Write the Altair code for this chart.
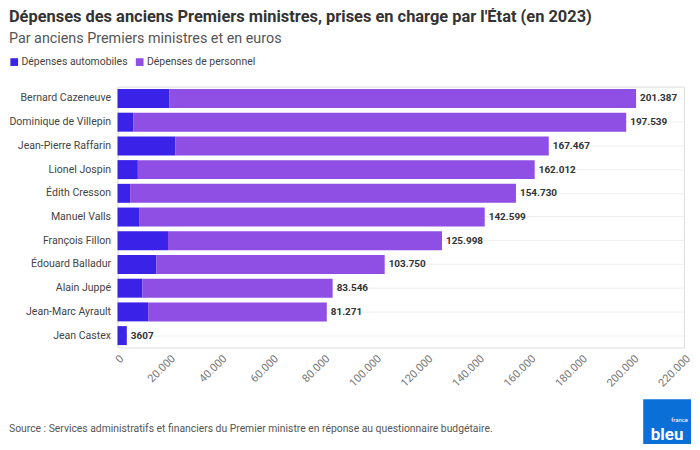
import altair as alt
import pandas as pd

ministres = ["Bernard Cazeneuve", "Dominique de Villepin", "Jean-Pierre Raffarin",
             "Lionel Jospin", "Édith Cresson", "Manuel Valls", "François Fillon",
             "Édouard Balladur", "Alain Juppé", "Jean-Marc Ayrault", "Jean Castex"]
totaux = [201387, 197539, 167467, 162012, 154730, 142599, 125998, 103750, 83546, 81271, 3607]
automobiles = [20200, 6100, 22500, 7900, 4900, 8400, 19600, 15100, 9700, 11900, 3607]
etiquettes = ["201.387", "197.539", "167.467", "162.012", "154.730", "142.599",
              "125.998", "103.750", "83.546", "81.271", "3607"]
series = ["Dépenses automobiles", "Dépenses de personnel"]
couleurs = ["#3a22e8", "#8f4fe4"]

rows = []
for m, t, a in zip(ministres, totaux, automobiles):
    rows.append({"ministre": m, "serie": series[0], "valeur": a, "ordre": 0})
    rows.append({"ministre": m, "serie": series[1], "valeur": t - a, "ordre": 1})
df = pd.DataFrame(rows)
df_tot = pd.DataFrame({"ministre": ministres, "total": totaux, "label": etiquettes})

FONT = "Roboto"
W, H = 569, 262

y_enc = alt.Y("ministre:N", sort=ministres, title=None,
              scale=alt.Scale(paddingInner=0.2, paddingOuter=0.1),
              axis=alt.Axis(grid=True, gridColor="#efefef", ticks=False, domain=False,
                            labelFontSize=10.6, labelColor="#444", labelPadding=7,
                            labelFont=FONT))

bars = alt.Chart(df).mark_bar().encode(
    x=alt.X("valeur:Q", stack="zero", title=None,
            scale=alt.Scale(domain=[0, 220000], nice=False),
            axis=alt.Axis(values=list(range(0, 220001, 20000)), labelAngle=-45,
                          ticks=False, domain=True, domainColor="#eeeeee", grid=False,
                          labelFontSize=11, labelColor="#777", labelFont=FONT,
                          labelPadding=5, format=",d", labelFlush=False)),
    y=y_enc,
    color=alt.Color("serie:N", scale=alt.Scale(domain=series, range=couleurs),
                    legend=alt.Legend(title=None, orient="none", direction="horizontal",
                                      legendX=-109, legendY=-30, symbolType="square",
                                      symbolSize=60, labelFontSize=10.5, labelColor="#444",
                                      labelFont=FONT, columnPadding=6, symbolOffset=0,
                                      labelOffset=2)),
    order=alt.Order("ordre:Q"),
)

text = alt.Chart(df_tot).mark_text(align="left", baseline="middle", dx=4,
                                   fontSize=10, fontWeight="bold", color="#333",
                                   font=FONT).encode(
    x=alt.X("total:Q"),
    y=alt.Y("ministre:N", sort=ministres),
    text="label:N",
)

source = alt.Chart(pd.DataFrame({"t": ["Source : Services administratifs et financiers du Premier ministre en réponse au questionnaire budgétaire."]})).mark_text(
    align="left", baseline="middle", fontSize=10.4, color="#555", font=FONT
).encode(x=alt.value(-109), y=alt.value(H + 82), text="t:N")

logo_box = alt.Chart(pd.DataFrame({"a": [1]})).mark_rect(color="#0b6fd8").encode(
    x=alt.value(528), x2=alt.value(576), y=alt.value(H + 52), y2=alt.value(H + 97))
logo_txt = alt.Chart(pd.DataFrame({"t": ["bleu"]})).mark_text(
    color="white", fontSize=17, fontWeight="bold", font=FONT, align="center",
    baseline="alphabetic"
).encode(x=alt.value(552), y=alt.value(H + 93), text="t:N")
logo_small = alt.Chart(pd.DataFrame({"t": ["france"]})).mark_text(
    color="white", fontSize=6, font=FONT, align="right", baseline="alphabetic"
).encode(x=alt.value(573), y=alt.value(H + 75), text="t:N")

chart = alt.layer(bars, text, source, logo_box, logo_txt, logo_small).properties(
    width=W, height=H,
    title=alt.TitleParams(
        "Dépenses des anciens Premiers ministres, prises en charge par l'État (en 2023)",
        subtitle="Par anciens Premiers ministres et en euros",
        anchor="start", frame="bounds", font=FONT, fontSize=16.5, fontWeight="bold",
        color="#333", subtitleFont=FONT, subtitleFontSize=14.4, subtitleColor="#555",
        subtitlePadding=7, offset=11),
    padding={"left": 0, "top": 0, "right": 0, "bottom": 0},
).configure_view(stroke=None).configure(
    background="white"
)

chart.save("out.html", embed_options={"renderer": "svg", "actions": False,
                                      "formatLocale": {"decimal": ",", "thousands": ".",
                                                       "grouping": [3], "currency": ["", " €"]}})
